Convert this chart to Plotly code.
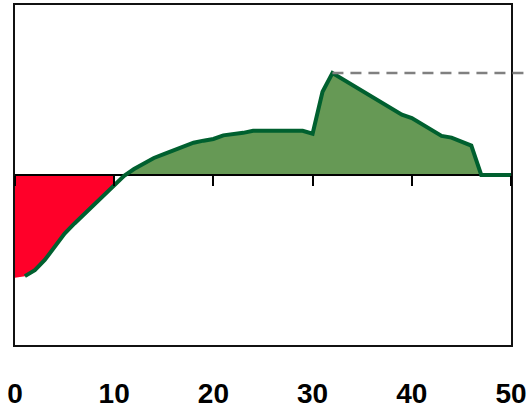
import numpy as np
import plotly.graph_objects as go

# ---- data ----
x_vals = list(range(0, 51))
y_vals = [-60.5, -59.5, -56, -50, -42, -34.5, -28.5, -22.8, -17, -11.3,
          -5.5, -0.5, 3.5, 7, 10, 12.3, 14.5, 16.8, 19, 20.2,
          21.2, 23.3, 23.8, 24.8, 26, 26, 26, 26, 26, 26,
          24.3, 49, 60, 56.5, 53, 49.5, 46, 42.5, 39, 35.5,
          33.5, 30, 26.5, 23, 22, 19.5, 17.3, 0, 0, 0, 0]
tick_vals = [0, 10, 20, 30, 40, 50]
tick_text = ["0", "10", "20", "30", "40", "50"]
x_range = [0, 50]
y_range = [-100, 100]
split_x = 10   # red fill up to here
line_start = 1  # curve line drawn from here

RED = "#FF0029"
GREEN_FILL = "#669955"
GREEN_LINE = "#00602F"

xs = np.array(x_vals, dtype=float)
ys = np.array(y_vals, dtype=float)

fig = go.Figure()

neg_mask = xs <= split_x
fig.add_trace(go.Scatter(x=xs[neg_mask], y=np.minimum(ys[neg_mask], 0),
                         mode="lines", fill="tozeroy", fillcolor=RED,
                         line=dict(width=0, color=RED), hoverinfo="skip",
                         showlegend=False))
pos_mask = xs >= split_x
fig.add_trace(go.Scatter(x=xs[pos_mask], y=np.maximum(ys[pos_mask], 0),
                         mode="lines", fill="tozeroy", fillcolor=GREEN_FILL,
                         line=dict(width=0, color=GREEN_FILL), hoverinfo="skip",
                         showlegend=False))
# zero baseline
fig.add_trace(go.Scatter(x=xs, y=np.zeros_like(xs), mode="lines",
                         line=dict(color="black", width=2),
                         hoverinfo="skip", showlegend=False))
# curve (on overlay axis so it sits above everything and x2 ticks get drawn)
lm = xs >= line_start
fig.add_trace(go.Scatter(x=xs[lm], y=ys[lm], mode="lines", xaxis="x2",
                         line=dict(color=GREEN_LINE, width=4),
                         showlegend=False))

# dashed line from peak to the right
ipk = int(np.argmax(ys))
px = (xs[ipk] - x_range[0]) / (x_range[1] - x_range[0])
py = (ys[ipk] - y_range[0]) / (y_range[1] - y_range[0])
fig.add_shape(type="line", xref="paper", yref="paper",
              x0=px, x1=1.06, y0=py, y1=py,
              line=dict(color="#808080", width=2.5, dash="11px,7px"))

zero_pos = (0 - y_range[0]) / (y_range[1] - y_range[0])

fig.update_layout(
    width=530, height=409,
    margin=dict(l=15, r=19, t=5, b=64, autoexpand=False),
    paper_bgcolor="white", plot_bgcolor="white",
    xaxis=dict(range=x_range, tickvals=tick_vals, ticktext=tick_text,
               ticks="outside", ticklen=22, tickcolor="rgba(0,0,0,0)",
               showline=True, mirror=True, linecolor="#111", linewidth=2,
               showgrid=False, zeroline=False, automargin=False,
               tickfont=dict(family="Liberation Sans, Arial", size=28,
                             color="black", weight="bold")),
    xaxis2=dict(range=x_range, tickvals=tick_vals, overlaying="x",
                anchor="free", position=zero_pos, side="bottom",
                ticks="outside", ticklen=10, tickwidth=2, tickcolor="black",
                showticklabels=False, showline=False, showgrid=False,
                zeroline=False, automargin=False),
    yaxis=dict(range=y_range, showticklabels=False, ticks="",
               showline=True, mirror=True, linecolor="#111", linewidth=2,
               showgrid=False, zeroline=False, automargin=False),
)

fig.write_html("out.html", config={"displayModeBar": False},
               post_script="document.body.style.margin='0px';")
